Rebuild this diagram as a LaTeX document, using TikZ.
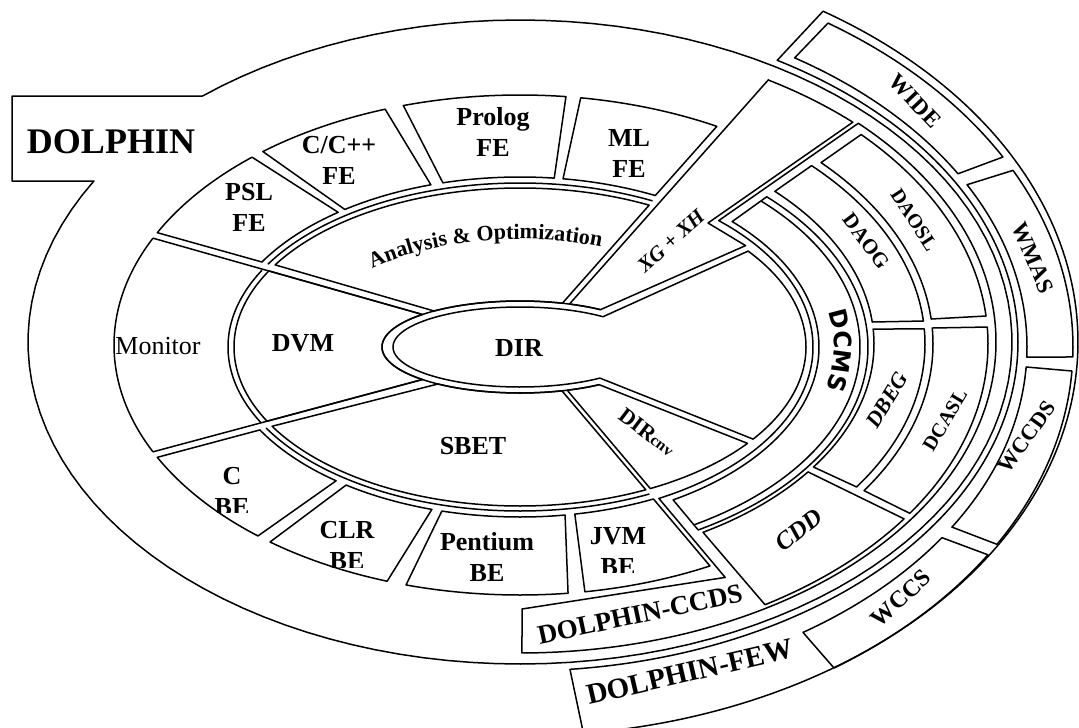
\documentclass[tikz,border=0pt]{standalone}
\usepackage{fontspec}
\setmainfont{Liberation Serif}
\newfontfamily\dcmsfont{DejaVu Sans}
\usetikzlibrary{decorations.text}
% arc of an ellipse centred at x=520: {a}{b}{centre y}{from angle}{to angle}
\newcommand\ellarc[5]{plot[domain=#4:#5,samples=120,variable=\x]({520+(#1)*cos(\x)},{(#3)-(#2)*sin(\x)})}
% the same, joined to the path by a straight line
\newcommand\toellarc[5]{-- plot[domain=#4:#5,samples=120,variable=\x]({520+(#1)*cos(\x)},{(#3)-(#2)*sin(\x)})}
% single point on such an ellipse, and a straight line to it
\newcommand\ellpt[4]{({520+(#1)*cos(#4)},{(#3)-(#2)*sin(#4)})}
\newcommand\toellpt[4]{-- ({520+(#1)*cos(#4)},{(#3)-(#2)*sin(#4)})}
\tikzset{
  cell/.style={draw=black,line width=1.5pt,line join=round},
  lbl/.style={inner sep=0pt,align=center,font=\fontsize{26}{31}\selectfont\bfseries},
  rlab/.style={inner sep=0pt,font=\fontsize{22}{22}\selectfont\bfseries},
}
\begin{document}
\begin{tikzpicture}[x=1pt,y=-1pt]
\useasboundingbox (0,0) rectangle (1079,728);
\clip (0,0) rectangle (1079,728);
\fill[white] (0,0) rectangle (1079,728);

% ---- DOLPHIN outline with its name tab
\draw[cell] (12,96) \toellarc{492}{322}{342}{130.2}{-210} -- (12,181) -- cycle;

% ---- DOLPHIN-FEW band and its four parts
\draw[cell] \ellpt{498}{329}{342}{58.9} \toellarc{558}{394}{342}{57.1}{-83.47} \toellarc{498}{329}{342}{-84.24}{58.9} -- cycle;
\draw[cell] \ellarc{553}{390}{347}{56.15}{29.15} \toellarc{507}{344}{347}{30.24}{57.2} -- cycle;
\draw[cell] \ellarc{553}{390}{347}{26.93}{-1.47} \toellarc{507}{344}{347}{-1.67}{28.15} -- cycle;
\draw[cell] \ellarc{553}{390}{347}{-3.53}{-30.4} \toellarc{507}{344}{347}{-31.57}{-3.33} -- cycle;
\draw[cell] \ellarc{553}{390}{347}{-32.2}{-55.4} \toellarc{507}{344}{347}{-56.07}{-33.66} -- cycle;

% ---- DOLPHIN-CCDS band
\draw[cell] \ellarc{293}{172}{347}{47.3}{-61.7} -- (725.2,577.4) -- (522,609) \toellarc{476}{311}{342}{-89.76}{44.7} -- cycle;
% DCMS ring (double outer edge)
\draw[cell] \ellarc{299}{178}{347}{44.8}{-59.2} \toellarc{348}{213}{347}{-59.2}{44.85} -- cycle;
\draw[cell] \ellarc{340}{207}{347}{44.9}{-59.3};
% DAOG, DBEG
\draw[cell] \ellarc{354}{220}{344}{43.95}{5.74} \toellarc{405}{257}{344}{5.13}{43.95} -- cycle;
\draw[cell] \ellarc{354}{220}{344}{3.91}{-34} \toellarc{405}{257}{344}{-33.8}{3.35} -- cycle;
% DAOSL, DCASL
\draw[cell] \ellarc{413}{265}{344}{43.2}{5.41} \toellarc{468}{306}{344}{5.25}{43.2} -- cycle;
\draw[cell] \ellarc{413}{265}{344}{3.46}{-33.6} \toellarc{468}{306}{344}{-33.6}{3.18} -- cycle;
% CDD
\draw[cell] \ellarc{354}{220}{344}{-35.55}{-58.87} \toellarc{468}{306}{344}{-58.43}{-34.85} -- cycle;

% ---- XG + XH wedge
\draw[cell] \ellarc{138}{46}{347}{54.3}{69} -- (768.4,79.8) \toellarc{480}{312}{347}{58.84}{46.1} -- (708,223) -- (745.6,245.6) -- cycle;

% ---- core cells
\draw[cell] \ellarc{127}{40}{347}{49.2}{309} \toellarc{286}{159}{347}{-35.4}{37.1} -- cycle;   % DIR
\draw[cell] \ellarc{138}{46}{347}{-70}{-55} \toellarc{286}{159}{347}{-37.3}{-62.9} -- cycle;  % DIRcnv
\draw[cell] \ellarc{138}{46}{347}{72.1}{128.5} \toellarc{286}{159}{347}{148.9}{63.15} -- cycle; % analysis
\draw[cell] \ellarc{138}{46}{347}{135}{225} \toellarc{286}{159}{347}{207.8}{151.4} -- cycle;   % DVM
\draw[cell] \ellarc{138}{46}{347}{233.5}{287.7} \toellarc{286}{159}{347}{296.1}{209.9} -- cycle; % SBET
\draw[cell] \ellarc{138}{46}{347}{54.3}{305};

% ---- front-end / back-end ring
\draw[cell] \ellarc{406}{250}{345}{154.7}{205.3};
\draw[cell] \ellpt{406}{250}{345}{154.7} \toellpt{138}{46}{347}{135};
\draw[cell] \ellpt{406}{250}{345}{205.3} \toellpt{138}{46}{347}{225};
\draw[cell] \ellarc{292}{164}{347}{152.1}{207.5};
\draw[cell] \ellarc{292}{164}{347}{63}{149.7};
\draw[cell] \ellarc{292}{164}{347}{209.6}{296.3};

\draw[cell] \ellarc{406}{250}{345}{153.3}{131.3} \toellarc{298}{170}{347}{127.6}{150} -- cycle;   % PSL
\draw[cell] \ellarc{406}{250}{345}{129.3}{109.4} \toellarc{298}{170}{347}{107.4}{126} -- cycle;   % C/C++
\draw[cell] \ellarc{406}{250}{345}{106.7}{83.5} \toellarc{298}{170}{347}{83.4}{105} -- cycle;     % Prolog
\draw[cell] \ellarc{406}{250}{345}{81.4}{61} \toellarc{298}{170}{347}{63}{81.7} -- cycle;         % ML
\draw[cell] \ellarc{406}{250}{345}{-153.3}{-130.2} \toellarc{298}{170}{347}{-128.1}{-150.8} -- cycle; % C
\draw[cell] \ellarc{406}{250}{345}{-128}{-109.1} \toellarc{298}{170}{347}{-107.2}{-125.7} -- cycle;   % CLR
\draw[cell] \ellarc{406}{250}{345}{-106.3}{-83.2} \toellarc{298}{170}{347}{-81.3}{-105.2} -- cycle;   % Pentium
\draw[cell] \ellarc{406}{250}{345}{-80.8}{-62.1} \toellarc{298}{170}{347}{-63.4}{-79.4} -- cycle;     % JVM

% ---- labels
\node[lbl] (dolphin) at (111,142) {\fontsize{36}{36}\selectfont DOLPHIN};
\node[lbl] (psl) at (249,207) {PSL\\FE};
\node[lbl] (cfe) at (339,160) {C/C++\\FE};
\node[lbl] (prolog) at (493,132) {Prolog\\FE};
\node[lbl] (ml) at (629,153) {ML\\FE};
\node[lbl,font=\fontsize{26}{31}\selectfont] (monitor) at (158,346) {Monitor};
\node[lbl] (dvm) at (303,343) {DVM};
\node[lbl] (dir) at (519,348) {DIR};
\node[lbl] (sbet) at (473,446) {SBET};
\node[lbl] (pent) at (487,557) {Pentium\\BE};
\begin{scope}
  \clip (180,440) rectangle (300,512);
  \node[lbl] (cbe) at (232,491) {C\\BE};
\end{scope}
\begin{scope}
  \clip (290,500) rectangle (410,567);
  \node[lbl] (clr) at (347,545) {CLR\\BE};
\end{scope}
\begin{scope}
  \clip (570,500) rectangle (670,572);
  \node[lbl] (jvm) at (618,552) {JVM\\BE};
\end{scope}

\path[decorate,decoration={text along path,text align=center,
  text={|\bfseries\fontsize{22}{22}\selectfont|Analysis {\&} Optimization}}]
  \ellarc{215}{108}{347}{138}{64};
\path[decorate,decoration={text along path,text align=center,
  text={|\dcmsfont\bfseries\fontsize{24}{24}\selectfont|DCMS}}]
  \ellarc{314}{184}{347}{15}{-17};

\node[rlab,rotate=-46.6,font=\fontsize{23}{23}\selectfont\bfseries] (wide) at (915,101) {WIDE};
\node[rlab,rotate=-67,font=\fontsize{23}{23}\selectfont\bfseries] (wmas) at (1033,258) {WMAS};
\node[rlab,rotate=54] (wccds) at (1027,437) {WCCDS};
\node[rlab,rotate=42.5,font=\fontsize{24}{24}\selectfont\bfseries] (wccs) at (901,598) {WCCS};
\node[rlab,rotate=-57,font=\fontsize{20}{20}\selectfont\bfseries] (daosl) at (914,220) {DAOSL};
\node[rlab,rotate=-53,font=\fontsize{21}{21}\selectfont\bfseries] (daog) at (866,241) {DAOG};
\node[rlab,rotate=58.6,font=\fontsize{22}{22}\selectfont\bfseries\itshape] (dbeg) at (887,400) {DBEG};
\node[rlab,rotate=59,font=\fontsize{20}{20}\selectfont\bfseries] (dcasl) at (945,420) {DCASL};
\node[rlab,rotate=39,font=\fontsize{25}{25}\selectfont\bfseries\itshape] (cdd) at (799,530) {CDD};
\node[rlab,rotate=-37] (dircnv) at (647,432) {DIR{\fontsize{16}{16}\selectfont cnv}};
\node[rlab,rotate=42,font=\fontsize{21}{21}\selectfont\bfseries\itshape] (xgxh) at (671,241) {XG + XH};
\node[rlab,rotate=12,font=\fontsize{27}{27}\selectfont\bfseries] (ccds) at (640,614) {DOLPHIN-CCDS};
\node[rlab,rotate=13,font=\fontsize{29}{29}\selectfont\bfseries] (few) at (690,672) {DOLPHIN-FEW};
\end{tikzpicture}
\end{document}
